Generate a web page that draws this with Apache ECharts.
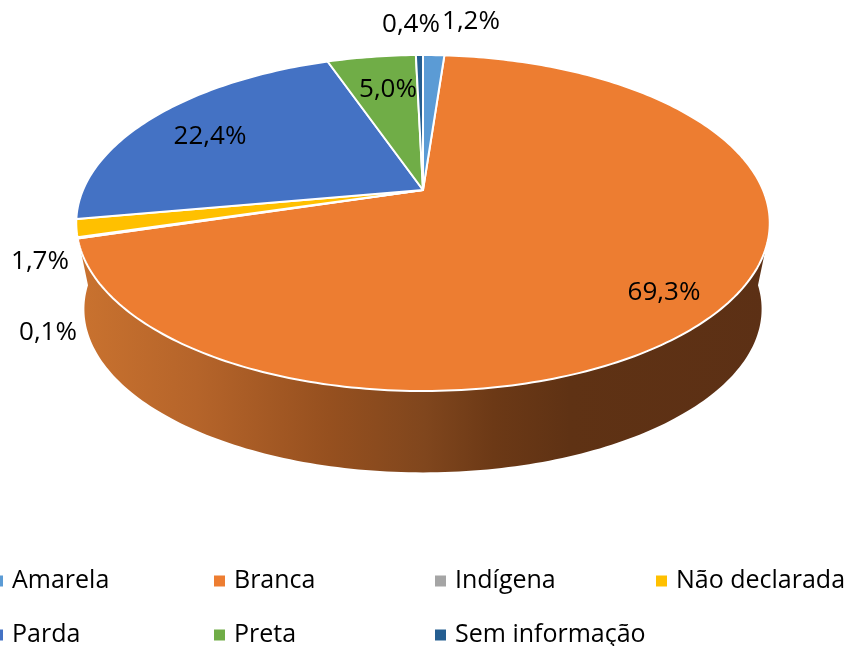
<!DOCTYPE html>
<html><head><meta charset="utf-8">
<style>html,body{margin:0;padding:0;background:#fff}#c{width:846px;height:646px}</style>
<script src="https://cdn.jsdelivr.net/npm/echarts@6/dist/echarts.min.js"></script>
</head><body><div id="c"></div>
<script>
const categories = ['Amarela','Branca','Indígena','Não declarada','Parda','Preta','Sem informação'];
const values = [1.2,69.3,0.1,1.7,22.4,5.0,0.4];
const colors = ['#5b9bd5','#ed7d31','#a5a5a5','#ffc000','#4472c4','#70ad47','#255e91'];
// label centres (placement only, px)
const labelX = [471,664,48,40,210,388,411];
const labelY = [22,293,333,262,137,90,25];
// legend placement (px)
const legendLefts = [-8,214,435,656,-8,214,435];
const legendCentres = [580,580,580,580,634,634,634];

const total = values.reduce((a,b)=>a+b,0);
const starts = []; values.reduce((a,b,i)=>(starts[i]=a,a+b),0);
const deg = Math.PI/180;
const K = 0.1965;
const topDisc = {cx:423,cy:190,a:340,b:161.5};
const baseDisc = {cx:423,cy:277,a:332,b:157};
function pt(d,t){const u=Math.sin(t*deg),v=-Math.cos(t*deg),w=1-K*v;return [d.cx+d.a*u/w,d.cy+d.b*v/w];}
function arc(d,a0,a1){const n=Math.max(2,Math.ceil(Math.abs(a1-a0)));const r=[];for(let i=0;i<=n;i++)r.push(pt(d,a0+(a1-a0)*i/n));return r;}
const wallFill = {type:'linear',x:80,y:0,x2:770,y2:0,global:true,colorStops:[
  {offset:0,color:'#c9722f'},{offset:0.17,color:'#b5642a'},{offset:0.36,color:'#96501f'},
  {offset:0.5,color:'#80461d'},{offset:0.6,color:'#6c3916'},{offset:0.71,color:'#5f3214'},{offset:1,color:'#5c3015'}]};
const fmt = v => v.toFixed(1).replace('.',',')+'%';

const series = categories.map((name,i)=>({
  type:'custom',name,coordinateSystem:'none',data:[values[i]],animation:false,silent:true,
  itemStyle:{color:colors[i]},z:name==='Branca'?1:2,
  renderItem(params,api){
    const a0=starts[i]/total*360,a1=(starts[i]+api.value(0))/total*360;
    const children=[];
    if(name==='Branca'){
      children.push({type:'polygon',shape:{points:arc(topDisc,110,250).concat(arc(baseDisc,267,93))},style:{fill:wallFill}});
    }
    children.push({type:'polygon',shape:{points:[[topDisc.cx,topDisc.cy]].concat(arc(topDisc,a0,a1))},
      style:{fill:colors[i],stroke:'#fff',lineWidth:2,lineJoin:'round'}});
    children.push({type:'text',z2:100,style:{x:labelX[i],y:labelY[i],text:fmt(values[i]),fill:'#000',
      font:'26px "Open Sans"',align:'center',verticalAlign:'middle'}});
    return {type:'group',children};
  }
}));

const legend = categories.map((name,i)=>({
  orient:'horizontal',left:legendLefts[i],top:legendCentres[i]-17,itemWidth:11,itemHeight:11,icon:'rect',itemGap:0,
  data:[name],selectedMode:false,padding:0,
  textStyle:{color:'#000',fontFamily:'"Open Sans"',fontSize:25,height:34,lineHeight:34,padding:[2,0,0,4]}
}));

const chart = echarts.init(document.getElementById('c'),null,{renderer:'canvas'});
chart.setOption({backgroundColor:'#fff',animation:false,legend,series});
</script></body></html>
